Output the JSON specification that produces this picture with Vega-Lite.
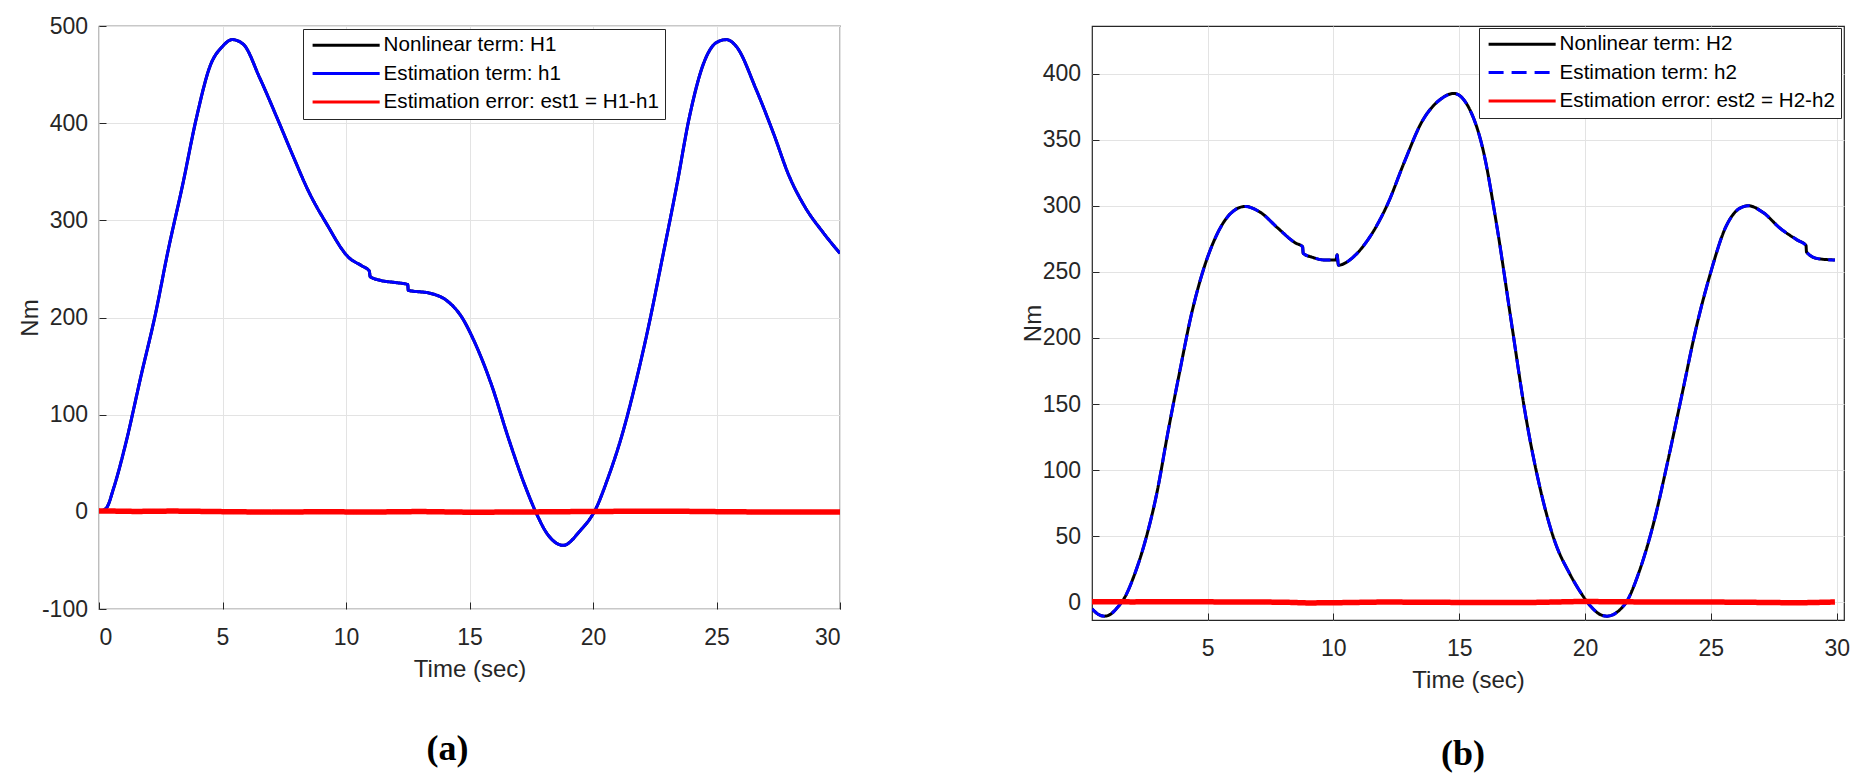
{
  "$schema": "https://vega.github.io/schema/vega-lite/v6.json",
  "background": "white",
  "padding": {"left": 17, "top": 14, "right": 5, "bottom": 0},
  "spacing": 178,
  "config": {
    "view": {"stroke": "#262626", "strokeWidth": 1.2},
    "axis": {
      "domain": false,
      "grid": true,
      "gridColor": "#e3e3e3",
      "gridWidth": 1,
      "tickColor": "#262626",
      "tickSize": -7,
      "tickWidth": 1,
      "labelFont": "Liberation Sans",
      "labelFontSize": 23,
      "labelColor": "#262626",
      "labelExpr": "'' + datum.value",
      "titleFont": "Liberation Sans",
      "titleFontSize": 24,
      "titleFontWeight": "normal",
      "titleColor": "#262626"
    },
    "legend": {
      "strokeColor": "#262626",
      "fillColor": "white",
      "padding": 6,
      "labelFont": "Liberation Sans",
      "labelFontSize": 20.6,
      "labelColor": "#000000",
      "labelLimit": 600,
      "rowPadding": 7.3
    },
    "title": {"font": "Liberation Serif", "fontSize": 36, "fontWeight": "bold", "color": "#000000"}
  },
  "resolve": {
    "scale": {"x": "independent", "y": "independent", "color": "independent", "strokeDash": "independent", "strokeWidth": "independent"},
    "legend": {"color": "independent", "strokeDash": "independent", "strokeWidth": "independent"}
  },
  "datasets": {
    "a": [
      {"t": 0, "v": 0, "s": "Nonlinear term: H1"},
      {"t": 0.3, "v": 4, "s": "Nonlinear term: H1"},
      {"t": 0.6, "v": 25, "s": "Nonlinear term: H1"},
      {"t": 1.05, "v": 67, "s": "Nonlinear term: H1"},
      {"t": 1.72, "v": 142, "s": "Nonlinear term: H1"},
      {"t": 2.28, "v": 203, "s": "Nonlinear term: H1"},
      {"t": 2.79, "v": 268, "s": "Nonlinear term: H1"},
      {"t": 3.39, "v": 337, "s": "Nonlinear term: H1"},
      {"t": 3.95, "v": 406, "s": "Nonlinear term: H1"},
      {"t": 4.5, "v": 459, "s": "Nonlinear term: H1"},
      {"t": 5.0, "v": 479, "s": "Nonlinear term: H1"},
      {"t": 5.4, "v": 486, "s": "Nonlinear term: H1"},
      {"t": 5.85, "v": 481, "s": "Nonlinear term: H1"},
      {"t": 6.5, "v": 447, "s": "Nonlinear term: H1"},
      {"t": 7.2, "v": 406, "s": "Nonlinear term: H1"},
      {"t": 7.86, "v": 366, "s": "Nonlinear term: H1"},
      {"t": 8.5, "v": 329, "s": "Nonlinear term: H1"},
      {"t": 9.2, "v": 297, "s": "Nonlinear term: H1"},
      {"t": 10.1, "v": 262, "s": "Nonlinear term: H1"},
      {"t": 10.65, "v": 253, "s": "Nonlinear term: H1"},
      {"t": 10.94, "v": 248, "s": "Nonlinear term: H1"},
      {"t": 10.98, "v": 242, "s": "Nonlinear term: H1"},
      {"t": 11.43, "v": 238, "s": "Nonlinear term: H1"},
      {"t": 12.0, "v": 236, "s": "Nonlinear term: H1"},
      {"t": 12.5, "v": 234, "s": "Nonlinear term: H1"},
      {"t": 12.52, "v": 228, "s": "Nonlinear term: H1"},
      {"t": 13.4, "v": 225, "s": "Nonlinear term: H1"},
      {"t": 14.1, "v": 217, "s": "Nonlinear term: H1"},
      {"t": 14.67, "v": 201, "s": "Nonlinear term: H1"},
      {"t": 15.2, "v": 175, "s": "Nonlinear term: H1"},
      {"t": 15.9, "v": 130, "s": "Nonlinear term: H1"},
      {"t": 16.56, "v": 77, "s": "Nonlinear term: H1"},
      {"t": 17.23, "v": 28, "s": "Nonlinear term: H1"},
      {"t": 17.68, "v": 0, "s": "Nonlinear term: H1"},
      {"t": 18.13, "v": -22, "s": "Nonlinear term: H1"},
      {"t": 18.8, "v": -34.5, "s": "Nonlinear term: H1"},
      {"t": 19.46, "v": -20, "s": "Nonlinear term: H1"},
      {"t": 20.13, "v": 4, "s": "Nonlinear term: H1"},
      {"t": 20.58, "v": 33, "s": "Nonlinear term: H1"},
      {"t": 21.14, "v": 76, "s": "Nonlinear term: H1"},
      {"t": 21.7, "v": 130, "s": "Nonlinear term: H1"},
      {"t": 22.25, "v": 191, "s": "Nonlinear term: H1"},
      {"t": 22.8, "v": 260, "s": "Nonlinear term: H1"},
      {"t": 23.4, "v": 337, "s": "Nonlinear term: H1"},
      {"t": 23.9, "v": 406, "s": "Nonlinear term: H1"},
      {"t": 24.5, "v": 463, "s": "Nonlinear term: H1"},
      {"t": 25.0, "v": 483, "s": "Nonlinear term: H1"},
      {"t": 25.4, "v": 486, "s": "Nonlinear term: H1"},
      {"t": 25.8, "v": 479, "s": "Nonlinear term: H1"},
      {"t": 26.6, "v": 435, "s": "Nonlinear term: H1"},
      {"t": 27.3, "v": 390, "s": "Nonlinear term: H1"},
      {"t": 27.95, "v": 345, "s": "Nonlinear term: H1"},
      {"t": 28.6, "v": 313, "s": "Nonlinear term: H1"},
      {"t": 29.3, "v": 288, "s": "Nonlinear term: H1"},
      {"t": 30, "v": 266, "s": "Nonlinear term: H1"},

      {"t": 0, "v": 0, "s": "Estimation term: h1"},
      {"t": 0.3, "v": 4, "s": "Estimation term: h1"},
      {"t": 0.6, "v": 25, "s": "Estimation term: h1"},
      {"t": 1.05, "v": 67, "s": "Estimation term: h1"},
      {"t": 1.72, "v": 142, "s": "Estimation term: h1"},
      {"t": 2.28, "v": 203, "s": "Estimation term: h1"},
      {"t": 2.79, "v": 268, "s": "Estimation term: h1"},
      {"t": 3.39, "v": 337, "s": "Estimation term: h1"},
      {"t": 3.95, "v": 406, "s": "Estimation term: h1"},
      {"t": 4.5, "v": 459, "s": "Estimation term: h1"},
      {"t": 5.0, "v": 479, "s": "Estimation term: h1"},
      {"t": 5.4, "v": 486, "s": "Estimation term: h1"},
      {"t": 5.85, "v": 481, "s": "Estimation term: h1"},
      {"t": 6.5, "v": 447, "s": "Estimation term: h1"},
      {"t": 7.2, "v": 406, "s": "Estimation term: h1"},
      {"t": 7.86, "v": 366, "s": "Estimation term: h1"},
      {"t": 8.5, "v": 329, "s": "Estimation term: h1"},
      {"t": 9.2, "v": 297, "s": "Estimation term: h1"},
      {"t": 10.1, "v": 262, "s": "Estimation term: h1"},
      {"t": 10.65, "v": 253, "s": "Estimation term: h1"},
      {"t": 10.94, "v": 248, "s": "Estimation term: h1"},
      {"t": 10.98, "v": 242, "s": "Estimation term: h1"},
      {"t": 11.43, "v": 238, "s": "Estimation term: h1"},
      {"t": 12.0, "v": 236, "s": "Estimation term: h1"},
      {"t": 12.5, "v": 234, "s": "Estimation term: h1"},
      {"t": 12.52, "v": 228, "s": "Estimation term: h1"},
      {"t": 13.4, "v": 225, "s": "Estimation term: h1"},
      {"t": 14.1, "v": 217, "s": "Estimation term: h1"},
      {"t": 14.67, "v": 201, "s": "Estimation term: h1"},
      {"t": 15.2, "v": 175, "s": "Estimation term: h1"},
      {"t": 15.9, "v": 130, "s": "Estimation term: h1"},
      {"t": 16.56, "v": 77, "s": "Estimation term: h1"},
      {"t": 17.23, "v": 28, "s": "Estimation term: h1"},
      {"t": 17.68, "v": 0, "s": "Estimation term: h1"},
      {"t": 18.13, "v": -22, "s": "Estimation term: h1"},
      {"t": 18.8, "v": -34.5, "s": "Estimation term: h1"},
      {"t": 19.46, "v": -20, "s": "Estimation term: h1"},
      {"t": 20.13, "v": 4, "s": "Estimation term: h1"},
      {"t": 20.58, "v": 33, "s": "Estimation term: h1"},
      {"t": 21.14, "v": 76, "s": "Estimation term: h1"},
      {"t": 21.7, "v": 130, "s": "Estimation term: h1"},
      {"t": 22.25, "v": 191, "s": "Estimation term: h1"},
      {"t": 22.8, "v": 260, "s": "Estimation term: h1"},
      {"t": 23.4, "v": 337, "s": "Estimation term: h1"},
      {"t": 23.9, "v": 406, "s": "Estimation term: h1"},
      {"t": 24.5, "v": 463, "s": "Estimation term: h1"},
      {"t": 25.0, "v": 483, "s": "Estimation term: h1"},
      {"t": 25.4, "v": 486, "s": "Estimation term: h1"},
      {"t": 25.8, "v": 479, "s": "Estimation term: h1"},
      {"t": 26.6, "v": 435, "s": "Estimation term: h1"},
      {"t": 27.3, "v": 390, "s": "Estimation term: h1"},
      {"t": 27.95, "v": 345, "s": "Estimation term: h1"},
      {"t": 28.6, "v": 313, "s": "Estimation term: h1"},
      {"t": 29.3, "v": 288, "s": "Estimation term: h1"},
      {"t": 30, "v": 266, "s": "Estimation term: h1"},

      {"t": 0, "v": 1, "s": "Estimation error: est1 = H1-h1"},
      {"t": 1.5, "v": 0.4, "s": "Estimation error: est1 = H1-h1"},
      {"t": 3, "v": 0.8, "s": "Estimation error: est1 = H1-h1"},
      {"t": 5, "v": 0.2, "s": "Estimation error: est1 = H1-h1"},
      {"t": 7, "v": -0.3, "s": "Estimation error: est1 = H1-h1"},
      {"t": 9, "v": 0.1, "s": "Estimation error: est1 = H1-h1"},
      {"t": 11, "v": -0.2, "s": "Estimation error: est1 = H1-h1"},
      {"t": 13, "v": 0.3, "s": "Estimation error: est1 = H1-h1"},
      {"t": 15, "v": -0.4, "s": "Estimation error: est1 = H1-h1"},
      {"t": 17, "v": -0.2, "s": "Estimation error: est1 = H1-h1"},
      {"t": 19, "v": 0.2, "s": "Estimation error: est1 = H1-h1"},
      {"t": 21, "v": 0.5, "s": "Estimation error: est1 = H1-h1"},
      {"t": 23, "v": 0.7, "s": "Estimation error: est1 = H1-h1"},
      {"t": 25, "v": 0.2, "s": "Estimation error: est1 = H1-h1"},
      {"t": 27, "v": -0.2, "s": "Estimation error: est1 = H1-h1"},
      {"t": 30, "v": -0.3, "s": "Estimation error: est1 = H1-h1"}
    ],
    "b": [
      {"t": 0.41, "v": -5, "s": "Nonlinear term: H2"},
      {"t": 0.65, "v": -9, "s": "Nonlinear term: H2"},
      {"t": 0.91, "v": -10.5, "s": "Nonlinear term: H2"},
      {"t": 1.15, "v": -9, "s": "Nonlinear term: H2"},
      {"t": 1.37, "v": -5, "s": "Nonlinear term: H2"},
      {"t": 1.72, "v": 4, "s": "Nonlinear term: H2"},
      {"t": 2.06, "v": 19, "s": "Nonlinear term: H2"},
      {"t": 2.52, "v": 46, "s": "Nonlinear term: H2"},
      {"t": 2.98, "v": 82, "s": "Nonlinear term: H2"},
      {"t": 3.44, "v": 130, "s": "Nonlinear term: H2"},
      {"t": 3.9, "v": 175, "s": "Nonlinear term: H2"},
      {"t": 4.35, "v": 217, "s": "Nonlinear term: H2"},
      {"t": 4.81, "v": 250, "s": "Nonlinear term: H2"},
      {"t": 5.27, "v": 274, "s": "Nonlinear term: H2"},
      {"t": 5.73, "v": 290, "s": "Nonlinear term: H2"},
      {"t": 6.1, "v": 297, "s": "Nonlinear term: H2"},
      {"t": 6.5, "v": 299.5, "s": "Nonlinear term: H2"},
      {"t": 7.1, "v": 295, "s": "Nonlinear term: H2"},
      {"t": 7.8, "v": 283, "s": "Nonlinear term: H2"},
      {"t": 8.48, "v": 272, "s": "Nonlinear term: H2"},
      {"t": 8.78, "v": 269, "s": "Nonlinear term: H2"},
      {"t": 8.8, "v": 264, "s": "Nonlinear term: H2"},
      {"t": 9.17, "v": 261, "s": "Nonlinear term: H2"},
      {"t": 9.63, "v": 259, "s": "Nonlinear term: H2"},
      {"t": 10.1, "v": 259, "s": "Nonlinear term: H2"},
      {"t": 10.15, "v": 263, "s": "Nonlinear term: H2"},
      {"t": 10.2, "v": 255, "s": "Nonlinear term: H2"},
      {"t": 10.5, "v": 257, "s": "Nonlinear term: H2"},
      {"t": 10.78, "v": 261, "s": "Nonlinear term: H2"},
      {"t": 11.47, "v": 277, "s": "Nonlinear term: H2"},
      {"t": 12.15, "v": 301, "s": "Nonlinear term: H2"},
      {"t": 12.84, "v": 334, "s": "Nonlinear term: H2"},
      {"t": 13.53, "v": 364, "s": "Nonlinear term: H2"},
      {"t": 14.22, "v": 380, "s": "Nonlinear term: H2"},
      {"t": 14.79, "v": 385, "s": "Nonlinear term: H2"},
      {"t": 15.36, "v": 375, "s": "Nonlinear term: H2"},
      {"t": 15.94, "v": 343, "s": "Nonlinear term: H2"},
      {"t": 16.51, "v": 283, "s": "Nonlinear term: H2"},
      {"t": 17.08, "v": 211, "s": "Nonlinear term: H2"},
      {"t": 17.66, "v": 139, "s": "Nonlinear term: H2"},
      {"t": 18.23, "v": 85, "s": "Nonlinear term: H2"},
      {"t": 18.8, "v": 46, "s": "Nonlinear term: H2"},
      {"t": 19.38, "v": 22, "s": "Nonlinear term: H2"},
      {"t": 19.84, "v": 7, "s": "Nonlinear term: H2"},
      {"t": 20.18, "v": -2, "s": "Nonlinear term: H2"},
      {"t": 20.64, "v": -9.6, "s": "Nonlinear term: H2"},
      {"t": 20.87, "v": -10.5, "s": "Nonlinear term: H2"},
      {"t": 21.1, "v": -9.5, "s": "Nonlinear term: H2"},
      {"t": 21.33, "v": -6.6, "s": "Nonlinear term: H2"},
      {"t": 21.67, "v": 1, "s": "Nonlinear term: H2"},
      {"t": 22.13, "v": 22, "s": "Nonlinear term: H2"},
      {"t": 22.7, "v": 58, "s": "Nonlinear term: H2"},
      {"t": 23.28, "v": 106, "s": "Nonlinear term: H2"},
      {"t": 23.85, "v": 157, "s": "Nonlinear term: H2"},
      {"t": 24.42, "v": 208, "s": "Nonlinear term: H2"},
      {"t": 25.0, "v": 250, "s": "Nonlinear term: H2"},
      {"t": 25.57, "v": 283, "s": "Nonlinear term: H2"},
      {"t": 26.14, "v": 298, "s": "Nonlinear term: H2"},
      {"t": 26.49, "v": 300, "s": "Nonlinear term: H2"},
      {"t": 27.07, "v": 295, "s": "Nonlinear term: H2"},
      {"t": 27.75, "v": 283, "s": "Nonlinear term: H2"},
      {"t": 28.44, "v": 274, "s": "Nonlinear term: H2"},
      {"t": 28.78, "v": 270, "s": "Nonlinear term: H2"},
      {"t": 28.8, "v": 265, "s": "Nonlinear term: H2"},
      {"t": 29.24, "v": 260, "s": "Nonlinear term: H2"},
      {"t": 29.93, "v": 259, "s": "Nonlinear term: H2"},

      {"t": 0.41, "v": -5, "s": "Estimation term: h2"},
      {"t": 0.65, "v": -9, "s": "Estimation term: h2"},
      {"t": 0.91, "v": -10.5, "s": "Estimation term: h2"},
      {"t": 1.15, "v": -9, "s": "Estimation term: h2"},
      {"t": 1.37, "v": -5, "s": "Estimation term: h2"},
      {"t": 1.72, "v": 4, "s": "Estimation term: h2"},
      {"t": 2.06, "v": 19, "s": "Estimation term: h2"},
      {"t": 2.52, "v": 46, "s": "Estimation term: h2"},
      {"t": 2.98, "v": 82, "s": "Estimation term: h2"},
      {"t": 3.44, "v": 130, "s": "Estimation term: h2"},
      {"t": 3.9, "v": 175, "s": "Estimation term: h2"},
      {"t": 4.35, "v": 217, "s": "Estimation term: h2"},
      {"t": 4.81, "v": 250, "s": "Estimation term: h2"},
      {"t": 5.27, "v": 274, "s": "Estimation term: h2"},
      {"t": 5.73, "v": 290, "s": "Estimation term: h2"},
      {"t": 6.1, "v": 297, "s": "Estimation term: h2"},
      {"t": 6.5, "v": 299.5, "s": "Estimation term: h2"},
      {"t": 7.1, "v": 295, "s": "Estimation term: h2"},
      {"t": 7.8, "v": 283, "s": "Estimation term: h2"},
      {"t": 8.48, "v": 272, "s": "Estimation term: h2"},
      {"t": 8.78, "v": 269, "s": "Estimation term: h2"},
      {"t": 8.8, "v": 264, "s": "Estimation term: h2"},
      {"t": 9.17, "v": 261, "s": "Estimation term: h2"},
      {"t": 9.63, "v": 259, "s": "Estimation term: h2"},
      {"t": 10.1, "v": 259, "s": "Estimation term: h2"},
      {"t": 10.15, "v": 263, "s": "Estimation term: h2"},
      {"t": 10.2, "v": 255, "s": "Estimation term: h2"},
      {"t": 10.5, "v": 257, "s": "Estimation term: h2"},
      {"t": 10.78, "v": 261, "s": "Estimation term: h2"},
      {"t": 11.47, "v": 277, "s": "Estimation term: h2"},
      {"t": 12.15, "v": 301, "s": "Estimation term: h2"},
      {"t": 12.84, "v": 334, "s": "Estimation term: h2"},
      {"t": 13.53, "v": 364, "s": "Estimation term: h2"},
      {"t": 14.22, "v": 380, "s": "Estimation term: h2"},
      {"t": 14.79, "v": 385, "s": "Estimation term: h2"},
      {"t": 15.36, "v": 375, "s": "Estimation term: h2"},
      {"t": 15.94, "v": 343, "s": "Estimation term: h2"},
      {"t": 16.51, "v": 283, "s": "Estimation term: h2"},
      {"t": 17.08, "v": 211, "s": "Estimation term: h2"},
      {"t": 17.66, "v": 139, "s": "Estimation term: h2"},
      {"t": 18.23, "v": 85, "s": "Estimation term: h2"},
      {"t": 18.8, "v": 46, "s": "Estimation term: h2"},
      {"t": 19.38, "v": 22, "s": "Estimation term: h2"},
      {"t": 19.84, "v": 7, "s": "Estimation term: h2"},
      {"t": 20.18, "v": -2, "s": "Estimation term: h2"},
      {"t": 20.64, "v": -9.6, "s": "Estimation term: h2"},
      {"t": 20.87, "v": -10.5, "s": "Estimation term: h2"},
      {"t": 21.1, "v": -9.5, "s": "Estimation term: h2"},
      {"t": 21.33, "v": -6.6, "s": "Estimation term: h2"},
      {"t": 21.67, "v": 1, "s": "Estimation term: h2"},
      {"t": 22.13, "v": 22, "s": "Estimation term: h2"},
      {"t": 22.7, "v": 58, "s": "Estimation term: h2"},
      {"t": 23.28, "v": 106, "s": "Estimation term: h2"},
      {"t": 23.85, "v": 157, "s": "Estimation term: h2"},
      {"t": 24.42, "v": 208, "s": "Estimation term: h2"},
      {"t": 25.0, "v": 250, "s": "Estimation term: h2"},
      {"t": 25.57, "v": 283, "s": "Estimation term: h2"},
      {"t": 26.14, "v": 298, "s": "Estimation term: h2"},
      {"t": 26.49, "v": 300, "s": "Estimation term: h2"},
      {"t": 27.07, "v": 295, "s": "Estimation term: h2"},
      {"t": 27.75, "v": 283, "s": "Estimation term: h2"},
      {"t": 28.44, "v": 274, "s": "Estimation term: h2"},
      {"t": 28.78, "v": 270, "s": "Estimation term: h2"},
      {"t": 28.8, "v": 265, "s": "Estimation term: h2"},
      {"t": 29.24, "v": 260, "s": "Estimation term: h2"},
      {"t": 29.93, "v": 259, "s": "Estimation term: h2"},

      {"t": 0.41, "v": 0.5, "s": "Estimation error: est2 = H2-h2"},
      {"t": 2, "v": 0.3, "s": "Estimation error: est2 = H2-h2"},
      {"t": 4, "v": 0.5, "s": "Estimation error: est2 = H2-h2"},
      {"t": 6, "v": 0.2, "s": "Estimation error: est2 = H2-h2"},
      {"t": 8, "v": 0.1, "s": "Estimation error: est2 = H2-h2"},
      {"t": 9, "v": -0.5, "s": "Estimation error: est2 = H2-h2"},
      {"t": 10.2, "v": -0.3, "s": "Estimation error: est2 = H2-h2"},
      {"t": 12, "v": 0.2, "s": "Estimation error: est2 = H2-h2"},
      {"t": 14, "v": 0, "s": "Estimation error: est2 = H2-h2"},
      {"t": 16, "v": -0.2, "s": "Estimation error: est2 = H2-h2"},
      {"t": 18, "v": -0.1, "s": "Estimation error: est2 = H2-h2"},
      {"t": 19.8, "v": 0.6, "s": "Estimation error: est2 = H2-h2"},
      {"t": 22, "v": 0.3, "s": "Estimation error: est2 = H2-h2"},
      {"t": 24, "v": 0.2, "s": "Estimation error: est2 = H2-h2"},
      {"t": 26, "v": 0.1, "s": "Estimation error: est2 = H2-h2"},
      {"t": 28.5, "v": -0.4, "s": "Estimation error: est2 = H2-h2"},
      {"t": 29.93, "v": 0.2, "s": "Estimation error: est2 = H2-h2"}
    ]
  },
  "hconcat": [
    {
      "width": 741,
      "height": 583,
      "data": {"name": "a"},
      "title": {"text": "(a)", "orient": "bottom", "anchor": "middle", "frame": "group", "offset": 51, "dx": -22},
      "encoding": {
        "x": {"field": "t", "type": "quantitative", "title": "Time (sec)",
              "scale": {"domain": [0, 30], "nice": false, "zero": false},
              "axis": {"values": [0, 5, 10, 15, 20, 25, 30], "labelPadding": 24, "titlePadding": 8}},
        "y": {"field": "v", "type": "quantitative", "title": "Nm",
              "scale": {"domain": [-100, 500], "nice": false, "zero": false},
              "axis": {"values": [-100, 0, 100, 200, 300, 400, 500], "labelPadding": 18.5, "titlePadding": -1}},
        "color": {"field": "s", "type": "nominal",
                  "scale": {"domain": ["Nonlinear term: H1", "Estimation term: h1", "Estimation error: est1 = H1-h1"], "range": ["#000000", "#0000ff", "#ff0000"]},
                  "legend": {"orient": "none", "legendX": 204, "legendY": 3, "title": null, "symbolType": "M-1,0H9", "symbolSize": 180, "labelOffset": 54}},
        "strokeDash": {"field": "s", "type": "nominal",
                  "scale": {"domain": ["Nonlinear term: H1", "Estimation term: h1", "Estimation error: est1 = H1-h1"], "range": [[1, 0], [1, 0], [1, 0]]},
                  "legend": {"orient": "none", "legendX": 204, "legendY": 3, "title": null, "symbolType": "M-1,0H9", "symbolSize": 180, "labelOffset": 54}},
        "strokeWidth": {"field": "s", "type": "ordinal",
                  "scale": {"domain": ["Nonlinear term: H1", "Estimation term: h1", "Estimation error: est1 = H1-h1"], "range": [3, 3, 5.5]},
                  "legend": {"orient": "none", "legendX": 204, "legendY": 3, "title": null, "symbolType": "M-1,0H9", "symbolSize": 180, "labelOffset": 54}}
      },
      "layer": [
        {"transform": [{"filter": "datum.s === 'Nonlinear term: H1'"}], "mark": {"type": "line", "clip": true, "interpolate": "monotone"}},
        {"transform": [{"filter": "datum.s === 'Estimation term: h1'"}], "mark": {"type": "line", "clip": true, "interpolate": "monotone"}},
        {"transform": [{"filter": "datum.s === 'Estimation error: est1 = H1-h1'"}], "mark": {"type": "line", "clip": true, "strokeWidth": 5.5}}
      ]
    },
    {
      "width": 752,
      "height": 594,
      "data": {"name": "b"},
      "title": {"text": "(b)", "orient": "bottom", "anchor": "middle", "frame": "group", "offset": 45, "dx": -5},
      "encoding": {
        "x": {"field": "t", "type": "quantitative", "title": "Time (sec)",
              "scale": {"domain": [0.41, 30.29], "nice": false, "zero": false},
              "axis": {"values": [5, 10, 15, 20, 25, 30], "labelPadding": 24, "titlePadding": 8}},
        "y": {"field": "v", "type": "quantitative", "title": "Nm",
              "scale": {"domain": [-13.4, 436], "nice": false, "zero": false},
              "axis": {"values": [0, 50, 100, 150, 200, 250, 300, 350, 400], "labelPadding": 18.5, "titlePadding": -3}},
        "color": {"field": "s", "type": "nominal",
                  "scale": {"domain": ["Nonlinear term: H2", "Estimation term: h2", "Estimation error: est2 = H2-h2"], "range": ["#000000", "#0000ff", "#ff0000"]},
                  "legend": {"orient": "none", "legendX": 387, "legendY": 2, "title": null, "symbolType": "M-1,0H9", "symbolSize": 180, "labelOffset": 54}},
        "strokeDash": {"field": "s", "type": "nominal",
                  "scale": {"domain": ["Nonlinear term: H2", "Estimation term: h2", "Estimation error: est2 = H2-h2"], "range": [[1, 0], [15, 8], [1, 0]]},
                  "legend": {"orient": "none", "legendX": 387, "legendY": 2, "title": null, "symbolType": "M-1,0H9", "symbolSize": 180, "labelOffset": 54}},
        "strokeWidth": {"field": "s", "type": "ordinal",
                  "scale": {"domain": ["Nonlinear term: H2", "Estimation term: h2", "Estimation error: est2 = H2-h2"], "range": [3, 3, 5.5]},
                  "legend": {"orient": "none", "legendX": 387, "legendY": 2, "title": null, "symbolType": "M-1,0H9", "symbolSize": 180, "labelOffset": 54}}
      },
      "layer": [
        {"transform": [{"filter": "datum.s === 'Nonlinear term: H2'"}], "mark": {"type": "line", "clip": true, "interpolate": "monotone"}},
        {"transform": [{"filter": "datum.s === 'Estimation term: h2'"}], "mark": {"type": "line", "clip": true, "interpolate": "monotone"}},
        {"transform": [{"filter": "datum.s === 'Estimation error: est2 = H2-h2'"}], "mark": {"type": "line", "clip": true, "strokeWidth": 5.5}}
      ]
    }
  ]
}
